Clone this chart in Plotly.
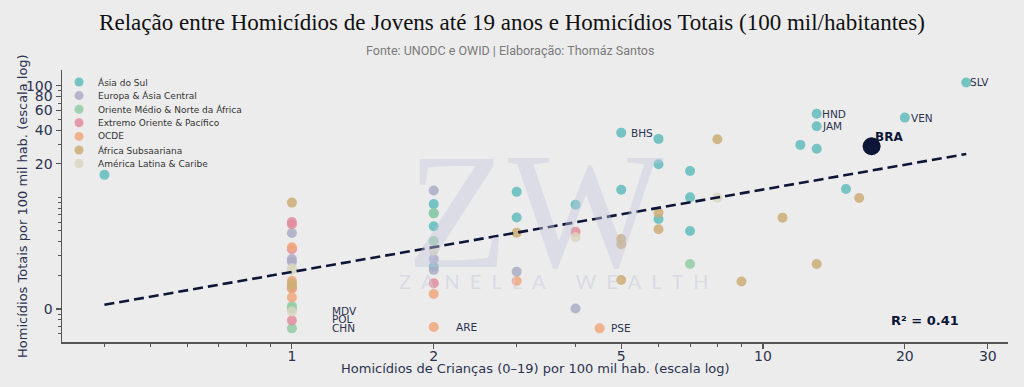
import numpy as np
import plotly.graph_objects as go

# ---------------- data (plotted values) ----------------
regions = ["Ásia do Sul", "Europa & Ásia Central", "Oriente Médio & Norte da África",
           "Extremo Oriente & Pacífico", "OCDE", "África Subsaariana", "América Latina & Caribe"]
colors = ["#62bcbd", "#abadc6", "#93cca3", "#e38d9d", "#f1a77c", "#cdae77", "#dbd6c0"]

x_asia_sul = [0.4, 2, 2, 2, 2, 3, 3, 4, 5, 5, 6, 6, 6, 7, 7, 7, 12, 13, 13, 13, 15, 20, 27]
y_asia_sul = [15.9, 8.7, 7.2, 5.5, 2.4, 11.2, 6.6, 8.6, 38.0, 11.7, 33.4, 19.8, 6.4, 17.2, 10.0, 5.0,
              29.5, 56.2, 43.4, 27.3, 11.9, 51.8, 107]
x_europa = [1, 1, 1, 2, 2, 2, 3, 4]
y_europa = [4.8, 2.8, 2.65, 11.5, 2.8, 2.24, 2.16, 1.01]
x_oriente_medio = [1, 1, 1, 2, 2, 7]
y_oriente_medio = [1.06, 1.01, 0.67, 7.2, 4.07, 2.53]
x_extremo_oriente = [1, 1, 1, 1, 1, 2, 4]
y_extremo_oriente = [6.0, 5.74, 3.43, 1.53, 0.79, 1.70, 4.93]
x_ocde = [1, 1, 1, 1, 2, 2, 3, 4.5]
y_ocde = [3.57, 1.79, 1.53, 1.27, 1.36, 0.69, 1.78, 0.67]
x_africa = [1, 1, 1, 3, 5, 5, 5, 6, 6, 8, 9, 11, 13, 16]
y_africa = [8.97, 1.70, 1.61, 4.83, 4.24, 3.80, 1.82, 7.29, 5.18, 33.2, 1.76, 6.58, 2.53, 9.88]
x_america_latina = [1, 1, 1, 2, 4, 8]
y_america_latina = [2.32, 2.24, 0.95, 3.33, 4.39, 9.94]

x_bra = [17]
y_bra = [28.7]

label_codes = ["BHS", "HND", "JAM", "VEN", "SLV", "ARE", "PSE", "MDV", "POL", "CHN"]
label_x = [5, 13, 13, 20, 27, 2, 4.5, 1, 1, 1]
label_y = [38.0, 56.2, 43.4, 51.8, 107, 0.69, 0.67, 0.95, 0.81, 0.67]

x_tick_vals = [1, 2, 5, 10, 20, 30]
x_tick_text = ["1", "2", "5", "10", "20", "30"]
y_tick_vals = [1, 20, 40, 60, 80, 100]
y_tick_text = ["0", "20", "40", "60", "80", "100"]
x_minor = [0.4, 0.5, 0.6, 0.7, 0.8, 0.9, 3, 4, 6, 7, 8, 9]
y_minor = [0.6, 0.7, 0.8, 0.9, 2, 3, 4, 5, 6, 7, 8, 9, 10, 30, 50, 70, 90]

xs = [x_asia_sul, x_europa, x_oriente_medio, x_extremo_oriente, x_ocde, x_africa, x_america_latina]
ys = [y_asia_sul, y_europa, y_oriente_medio, y_extremo_oriente, y_ocde, y_africa, y_america_latina]

NAVY = "#0d1636"
TXT = "#2b3350"
BG = "#ececec"
AX = "#555555"

fig = go.Figure()

# trend line (least squares in log-log space over all points)
all_x = np.array(sum(xs, []) + x_bra, dtype=float)
all_y = np.array(sum(ys, []) + y_bra, dtype=float)
slope, intercept = np.polyfit(np.log10(all_x), np.log10(all_y), 1)
tx = np.array([all_x.min(), all_x.max()])
ty = 10 ** (intercept + slope * np.log10(tx))

for name, col, x, y in zip(regions, colors, xs, ys):
    fig.add_trace(go.Scatter(x=x, y=y, mode="markers", name=name, showlegend=False,
                             marker=dict(size=10, color=col, opacity=0.85, line=dict(width=0))))

fig.add_trace(go.Scatter(x=tx, y=ty, mode="lines", showlegend=False,
                         line=dict(color=NAVY, width=2.6, dash="10px,5px")))

fig.add_trace(go.Scatter(x=x_bra, y=y_bra, mode="markers", showlegend=False,
                         marker=dict(size=18, color=NAVY, line=dict(width=0))))

# compact legend drawn on an overlay axis spanning the plot area (0..1)
n = len(regions)
leg_x0 = 0.018
leg_y = [(342 - (82 + 13.6 * i)) / 272 for i in range(n)]
fig.add_trace(go.Scatter(x=[leg_x0] * n, y=leg_y, xaxis="x2", yaxis="y2", mode="markers",
                         showlegend=False, hoverinfo="skip",
                         marker=dict(size=9, color=colors, opacity=0.85, line=dict(width=0))))
for name, yy in zip(regions, leg_y):
    fig.add_annotation(x=0.036, y=yy, xref="x2", yref="y2", text=name, showarrow=False,
                       xanchor="left", yanchor="middle",
                       font=dict(family="DejaVu Sans", size=9, color="#333333"))

shifts = {"BHS": 8, "HND": 3, "JAM": 3, "VEN": 4, "SLV": 2, "ARE": 20, "PSE": 9,
          "MDV": 38, "POL": 38, "CHN": 38}
for code, lx, ly in zip(label_codes, label_x, label_y):
    fig.add_annotation(x=np.log10(lx), y=np.log10(ly), text=code, showarrow=False,
                       xanchor="left", yanchor="middle", xshift=shifts[code],
                       font=dict(family="DejaVu Sans", size=10.5, color=TXT))

fig.add_annotation(x=np.log10(x_bra[0]), y=np.log10(y_bra[0]), text="<b>BRA</b>", showarrow=False,
                   xanchor="left", yanchor="middle", xshift=1, yshift=9,
                   font=dict(family="DejaVu Sans", size=12, color=NAVY))

fig.add_annotation(x=0.912, y=0.078, xref="paper", yref="paper", text="<b>R² = 0.41</b>",
                   showarrow=False, xanchor="center", yanchor="middle",
                   font=dict(family="DejaVu Sans", size=13, color=NAVY))

# watermark
fig.add_annotation(x=0.50, y=0.48, xref="paper", yref="paper", text="ZW", showarrow=False,
                   xanchor="center", yanchor="middle",
                   font=dict(family="Liberation Serif", size=165, color="rgba(196,198,222,0.42)"))
sp = "\u2002"
fig.add_annotation(x=0.52, y=0.225, xref="paper", yref="paper",
                   text=sp.join(list("ZANELLA")) + sp * 3 + sp.join(list("WEALTH")), showarrow=False,
                   xanchor="center", yanchor="middle",
                   font=dict(family="Lato", size=20, color="rgba(205,207,225,0.6)"))

# subtitle
fig.add_annotation(x=0.4736, y=1.0735, xref="paper", yref="paper",
                   text="Fonte: UNODC e OWID | Elaboração: Thomáz Santos", showarrow=False,
                   xanchor="center", yanchor="middle",
                   font=dict(family="Roboto", size=12.5, color="#7a7a7a"))

# axis titles (placed precisely)
fig.add_annotation(x=0.5, y=-0.099, xref="paper", yref="paper",
                   text="Homicídios de Crianças (0–19) por 100 mil hab. (escala log)", showarrow=False,
                   xanchor="center", yanchor="middle",
                   font=dict(family="DejaVu Sans", size=13, color=TXT))
fig.add_annotation(x=-0.0423, y=0.5, xref="paper", yref="paper", textangle=-90,
                   text="Homicídios Totais por 100 mil hab. (escala log)", showarrow=False,
                   xanchor="center", yanchor="middle",
                   font=dict(family="DejaVu Sans", size=13, color=TXT))

axis_common = dict(type="log", showgrid=False, zeroline=False, showline=True, linecolor=AX,
                   linewidth=1.5, ticks="outside", ticklen=5, tickwidth=1.2, tickcolor=AX,
                   tickmode="array", automargin=False,
                   tickfont=dict(family="DejaVu Sans", size=14, color=TXT))

fig.update_layout(
    width=1024, height=387,
    paper_bgcolor=BG, plot_bgcolor=BG,
    margin=dict(l=62, r=16, t=70, b=45),
    title=dict(text="Relação entre Homicídios de Jovens até 19 anos e Homicídios Totais (100 mil/habitantes)",
               x=0.5, xref="container", xanchor="center", y=0.943, yanchor="middle",
               font=dict(family="Liberation Serif", size=23, color="#111111")),
    xaxis=dict(**axis_common, range=[-0.488, 1.52], tickvals=x_tick_vals, ticktext=x_tick_text,
               ticklabelstandoff=-4,
               minor=dict(tickmode="array", tickvals=x_minor, ticks="outside", ticklen=3,
                          tickwidth=1, tickcolor=AX, showgrid=False)),
    yaxis=dict(**axis_common, range=[-0.296, 2.141], tickvals=y_tick_vals, ticktext=y_tick_text,
               minor=dict(tickmode="array", tickvals=y_minor, ticks="outside", ticklen=3,
                          tickwidth=1, tickcolor=AX, showgrid=False)),
    xaxis2=dict(overlaying="x", range=[0, 1], visible=False, fixedrange=True),
    yaxis2=dict(overlaying="y", range=[0, 1], visible=False, fixedrange=True),
    showlegend=False,
    hovermode=False,
)

fig.write_html("out.html", config={"displayModeBar": False, "staticPlot": True},
               post_script="document.body.style.margin='0';document.body.style.background='#ececec';")
